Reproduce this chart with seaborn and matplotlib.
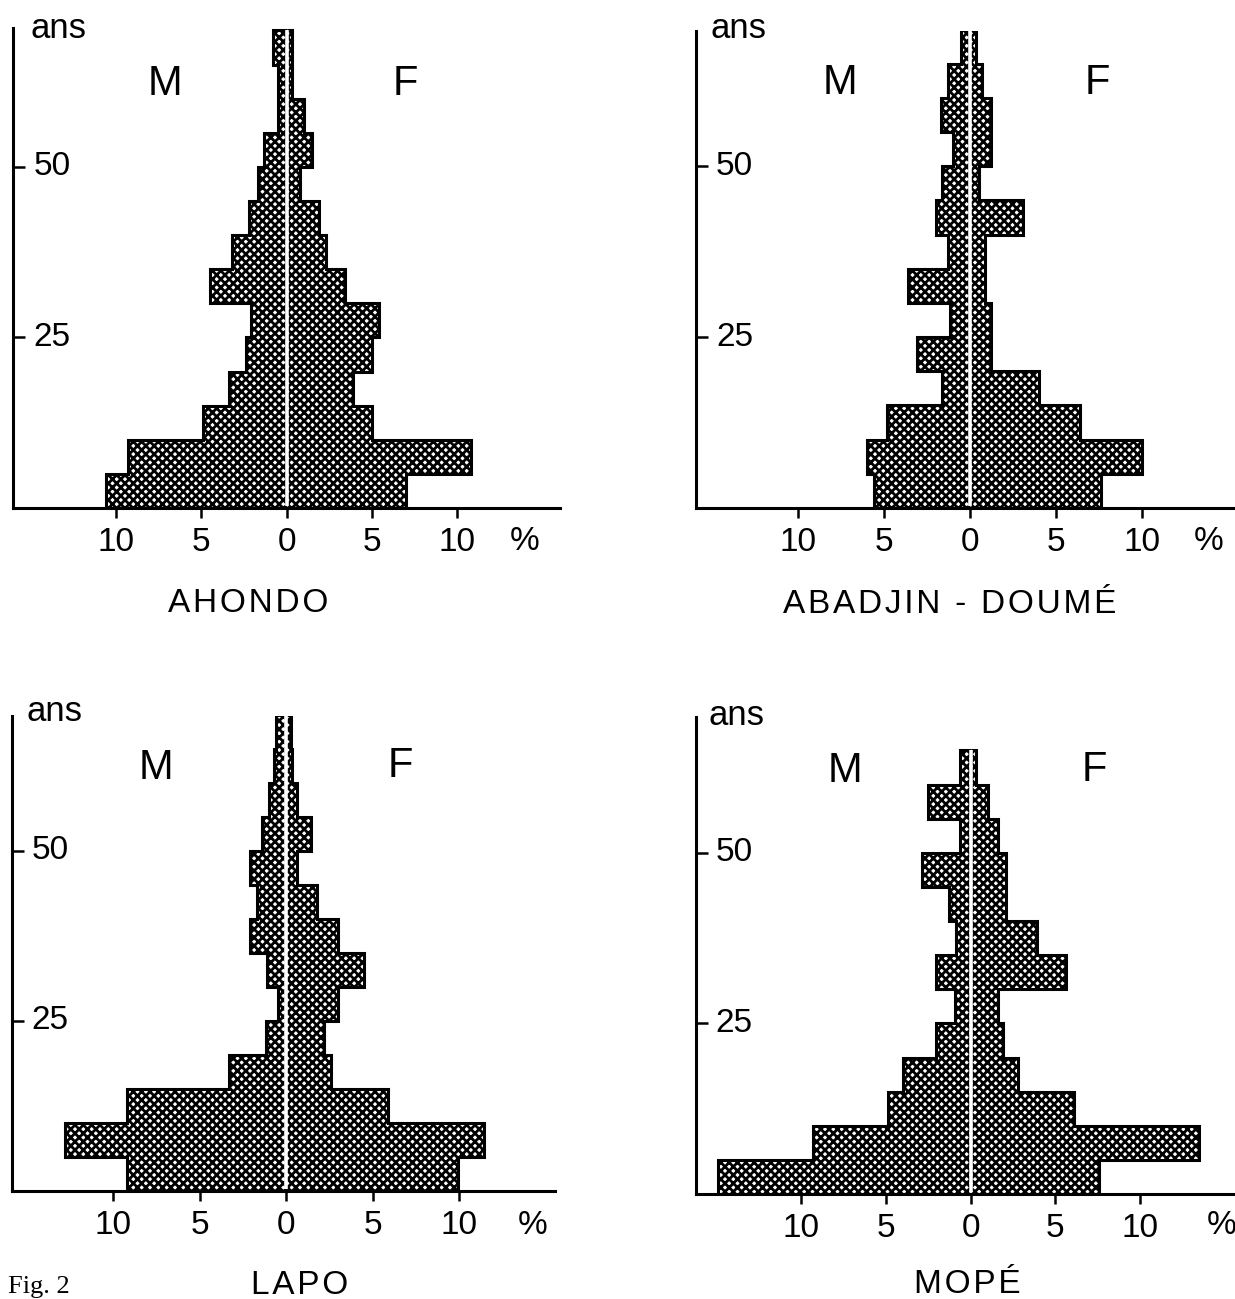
import numpy as np
import pandas as pd
import matplotlib
matplotlib.use("Agg")
import matplotlib.pyplot as plt
import seaborn as sns

# ---------------- data (percent of population per 5-year age group) -------------
age_edges = [0, 5, 10, 15, 20, 25, 30, 35, 40, 45, 50, 55, 60, 65, 70]
y_ticks = [25, 50]
x_ticks = [-10, -5, 0, 5, 10]
x_tick_labels = ["10", "5", "0", "5", "10"]

ahondo_m = [10.6, 9.3, 4.9, 3.4, 2.4, 2.1, 4.5, 3.2, 2.2, 1.7, 1.3, 0.5, 0.5, 0.8]
ahondo_f = [7.0, 10.8, 5.0, 3.9, 5.0, 5.4, 3.4, 2.3, 1.9, 0.8, 1.5, 1.0, 0.3, 0.3]

abadjin_m = [5.6, 6.0, 4.8, 1.6, 3.1, 1.15, 3.6, 1.3, 2.0, 1.6, 1.0, 1.7, 1.3, 0.5]
abadjin_f = [7.6, 10.0, 6.4, 4.0, 1.2, 1.2, 0.9, 0.9, 3.1, 0.5, 1.2, 1.2, 0.7, 0.35]

lapo_m = [9.2, 12.8, 9.2, 3.3, 1.2, 0.5, 1.1, 2.1, 1.7, 2.1, 1.4, 1.0, 0.7, 0.6]
lapo_f = [9.9, 11.4, 5.9, 2.6, 2.2, 3.0, 4.5, 3.0, 1.8, 0.6, 1.4, 0.6, 0.35, 0.25]

mope_m = [14.9, 9.3, 4.9, 4.0, 2.05, 0.9, 2.05, 0.85, 1.3, 2.85, 0.6, 2.5, 0.6]
mope_f = [7.6, 13.5, 6.1, 2.8, 1.9, 1.6, 5.65, 3.9, 2.1, 2.1, 1.6, 1.0, 0.3]

titles = ["AHONDO", "ABADJIN - DOUMÉ", "LAPO", "MOPÉ"]

# ---------------- style ---------------------------------------------------------
W, H = 1235, 1299
plt.rcParams["font.family"] = ["Liberation Sans", "DejaVu Sans"]
plt.rcParams["hatch.linewidth"] = 2.0
plt.rcParams["axes.linewidth"] = 2.0

fig = plt.figure(figsize=(W / 100, H / 100), dpi=100)
fig.patch.set_facecolor("white")


def fx(x):
    return x / W


def fy(y):
    return 1 - y / H


def spaced(s):
    return "\u200a".join(s)


panels = [
    dict(m=ahondo_m, f=ahondo_f, title=titles[0],
         box=(13.3, 27.7, 560, 508), xlim=(-16.0, 16.0), ytop=70.4,
         ans=(30, 37.5), M=(165, 84), F=(405, 84), pct=(525, 541), tpos=(248, 612)),
    dict(m=abadjin_m, f=abadjin_f, title=titles[1],
         box=(696, 31, 1235, 508), xlim=(-15.93, 15.41), ytop=69.8,
         ans=(710, 37.5), M=(840, 83), F=(1097, 83), pct=(1209, 541), tpos=(950, 613)),
    dict(m=lapo_m, f=lapo_f, title=titles[2],
         box=(11.8, 715.6, 555, 1191), xlim=(-15.87, 15.53), ytop=69.9,
         ans=(26, 721), M=(156, 768), F=(400, 766), pct=(533, 1225), tpos=(299.5, 1294)),
    dict(m=mope_m, f=mope_f, title=titles[3],
         box=(695.7, 717, 1235, 1194), xlim=(-16.22, 15.6), ytop=69.9,
         ans=(708, 725), M=(845, 771), F=(1094, 770), pct=(1222, 1225), tpos=(967, 1293)),
]

for p in panels:
    left, top, right, bottom = p["box"]
    ax = fig.add_axes([fx(left), fy(bottom), (right - left) / W, (bottom - top) / H])
    ax.set_facecolor("none")

    n = len(p["m"])
    edges = np.array(age_edges[: n + 1], dtype=float)
    mids = (edges[:-1] + edges[1:]) / 2
    df = pd.DataFrame({"age": mids,
                       "hommes": -np.asarray(p["m"], dtype=float),
                       "femmes": np.asarray(p["f"], dtype=float)})

    for col in ["hommes", "femmes"]:
        sns.barplot(data=df, x=col, y="age", orient="y", native_scale=True,
                    width=1.0, color="white", edgecolor="black", linewidth=0,
                    hatch="xxxx", errorbar=None, ax=ax, zorder=2)
        ax.stairs(df[col].to_numpy(), edges, orientation="horizontal",
                  baseline=0, color="black", linewidth=2.2, zorder=3)

    for patch in ax.patches:
        if hasattr(patch, "set_hatch_linewidth"):
            patch.set_hatch_linewidth(2.0)

    # white central line between the sexes
    ax.plot([0, 0], [0.3, edges[-1]], color="white", lw=2.6, zorder=4,
            solid_capstyle="butt")

    ax.set_xlim(*p["xlim"])
    ax.set_ylim(0, p["ytop"])
    ax.set_xlabel("")
    ax.set_ylabel("")
    ax.spines[["top", "right"]].set_visible(False)
    for s in ["left", "bottom"]:
        ax.spines[s].set_color("black")
        ax.spines[s].set_linewidth(2.2)
        ax.spines[s].set_zorder(5)

    ax.set_xticks(x_ticks, x_tick_labels)
    ax.tick_params(axis="x", bottom=True, direction="out", length=7, width=1.8,
                   pad=7, labelsize=24, colors="black")
    ax.set_yticks(y_ticks)
    ax.tick_params(axis="y", left=True, direction="in", length=8.5, width=1.8,
                   labelleft=False, colors="black")
    for v in y_ticks:
        ax.annotate(str(v), xy=(0, v), xycoords=("axes fraction", "data"),
                    xytext=(20, 0), textcoords="offset pixels",
                    ha="left", va="center", fontsize=24, color="black")

    fig.text(fx(p["ans"][0]), fy(p["ans"][1]), "ans", ha="left", va="baseline",
             fontsize=25, color="black")
    fig.text(fx(p["M"][0]), fy(p["M"][1]), "M", ha="center", va="center",
             fontsize=30, color="black")
    fig.text(fx(p["F"][0]), fy(p["F"][1]), "F", ha="center", va="center",
             fontsize=30, color="black")
    fig.text(fx(p["pct"][0]), fy(p["pct"][1]), "%", ha="center", va="center",
             fontsize=24, color="black")
    fig.text(fx(p["tpos"][0]), fy(p["tpos"][1]), spaced(p["title"]), ha="center",
             va="baseline", fontsize=24, color="black")

fig.text(fx(8), fy(1276), "Fig. 2", ha="left", va="top", fontsize=19,
         family=["Liberation Serif", "DejaVu Serif"], color="black")

fig.savefig("out.png", dpi=100, facecolor="white")
